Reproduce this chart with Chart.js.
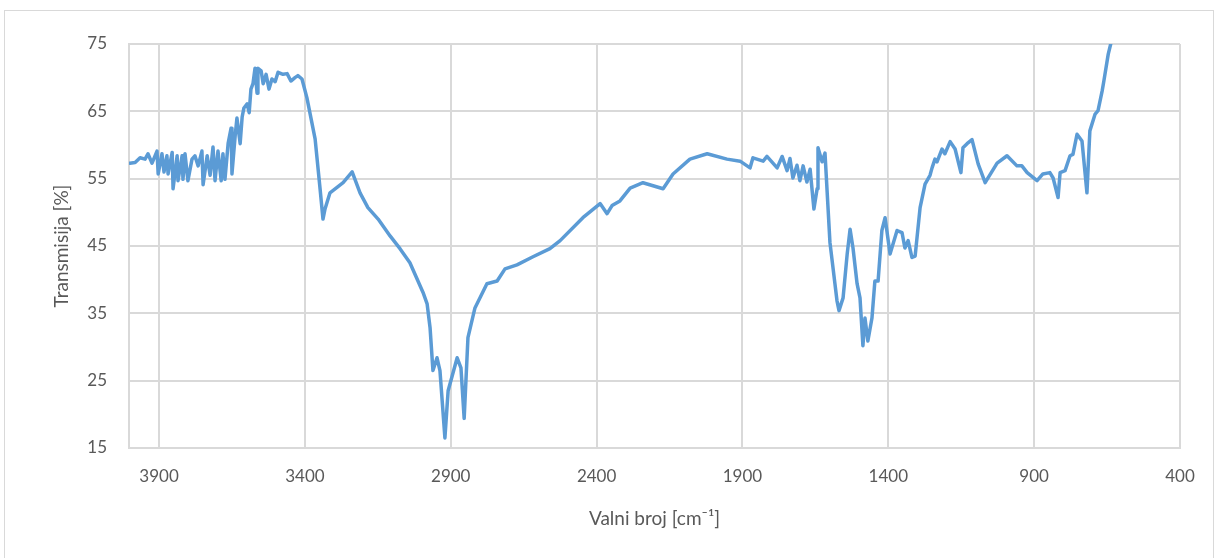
<!DOCTYPE html>
<html>
<head>
<meta charset="utf-8">
<script src="https://cdn.jsdelivr.net/npm/chart.js@4"></script>
<style>
  body { margin: 0; background: #fff; }
  #wrap { position: relative; width: 1215px; height: 558px; }
  #frame { position: absolute; left: 4px; top: 10px; width: 1208px; height: 560px; border: 1px solid #d9d9d9; }
  canvas { position: absolute; left: 0; top: 0; }
</style>
</head>
<body>
<div id="wrap">
  <div id="frame"></div>
  <canvas id="ftir" width="1215" height="558"></canvas>
</div>
<script>
// wavenumber [cm-1]
const wavenumbers = [
  4000, 3982, 3965, 3948, 3938, 3924, 3907, 3903, 3890, 3883, 3873, 3869, 3855, 3852, 3838, 3835,
  3821, 3818, 3811, 3801, 3787, 3777, 3766, 3753, 3749, 3735, 3725, 3715, 3708, 3698, 3687, 3681,
  3674, 3663, 3653, 3650, 3639, 3633, 3622, 3615, 3609, 3598, 3591, 3585, 3578, 3571, 3564, 3561,
  3550, 3543, 3533, 3523, 3513, 3502, 3492, 3475, 3461, 3448, 3434, 3424, 3410, 3393, 3365, 3348,
  3338, 3331, 3314, 3269, 3238, 3211, 3184, 3149, 3108, 3074, 3040, 2995, 2981, 2971, 2961, 2947,
  2937, 2920, 2909, 2878, 2865, 2854, 2841, 2817, 2776, 2741, 2714, 2673, 2618, 2560, 2525, 2447,
  2388, 2364, 2347, 2320, 2285, 2241, 2172, 2138, 2080, 2021, 1953, 1908, 1874, 1864, 1829, 1816,
  1781, 1764, 1747, 1737, 1727, 1713, 1703, 1692, 1679, 1668, 1661, 1655, 1644, 1641, 1627, 1617,
  1600, 1576, 1569, 1555, 1541, 1531, 1521, 1507, 1497, 1487, 1480, 1470, 1456, 1446, 1435, 1422,
  1411, 1394, 1370, 1353, 1343, 1332, 1319, 1308, 1291, 1274, 1257, 1250, 1240, 1233, 1216, 1206,
  1188, 1171, 1151, 1144, 1130, 1113, 1092, 1068, 1027, 993, 959, 942, 924, 890, 870, 846,
  835, 818, 811, 794, 777, 767, 753, 736, 719, 709, 691, 681, 667, 661, 646, 637, 620
];
// transmission [%]
const transmission = [
  57.3, 57.4, 58.1, 57.9, 58.7, 57.3, 59.1, 55.7, 58.7, 56.0, 58.4, 55.7, 58.9, 53.5, 58.4, 54.7,
  58.4, 54.9, 58.7, 54.7, 57.9, 58.4, 56.9, 59.1, 54.1, 58.4, 55.5, 59.7, 54.7, 59.1, 54.7, 58.7,
  54.9, 60.3, 62.5, 55.7, 61.4, 64.0, 60.2, 64.2, 65.5, 66.1, 64.8, 68.3, 69.1, 71.4, 67.7, 71.4,
  71.0, 69.1, 70.5, 68.3, 69.8, 69.4, 70.8, 70.5, 70.6, 69.5, 70.0, 70.3, 69.8, 67.0, 60.9, 53.5,
  49.0, 50.5, 52.9, 54.4, 56.0, 52.9, 50.7, 49.0, 46.5, 44.6, 42.5, 38.1, 36.4, 32.9, 26.5, 28.4,
  26.5, 16.5, 23.5, 28.4, 26.9, 19.4, 31.4, 35.8, 39.4, 39.8, 41.6, 42.2, 43.4, 44.6, 45.8, 49.2,
  51.3, 49.8, 51.0, 51.7, 53.6, 54.4, 53.5, 55.7, 57.9, 58.7, 57.9, 57.6, 56.6, 58.1, 57.6, 58.3,
  56.6, 58.3, 56.2, 58.0, 55.1, 57.0, 54.7, 56.9, 54.5, 56.4, 53.2, 50.5, 53.5, 59.6, 57.5, 58.8,
  45.5, 36.9, 35.4, 37.3, 43.8, 47.5, 44.7, 39.4, 37.3, 30.2, 34.3, 30.9, 34.3, 39.8, 39.8, 47.3,
  49.2, 43.8, 47.3, 47.0, 44.7, 45.8, 43.3, 43.5, 50.7, 54.2, 55.5, 56.6, 57.9, 57.5, 59.4, 58.7,
  60.5, 59.4, 55.9, 59.6, 60.2, 60.8, 57.2, 54.4, 57.3, 58.4, 56.9, 56.9, 55.9, 54.7, 55.7, 55.9,
  55.1, 52.2, 55.9, 56.2, 58.4, 58.6, 61.6, 60.6, 52.9, 62.1, 64.6, 65.1, 68.0, 69.5, 73.5, 75.1, 77.5
];
const xTickValues = [3900, 3400, 2900, 2400, 1900, 1400, 900, 400];

const points = wavenumbers.map((w, i) => ({ x: w, y: transmission[i] }));

const gridColor = '#d9d9d9';
const textColor = '#595959';
const fontFamily = 'Lato, "Open Sans", sans-serif';

const config = {
  type: 'scatter',
  data: {
    datasets: [{
      data: points,
      showLine: true,
      borderColor: '#5b9bd5',
      borderWidth: 3.5,
      borderJoinStyle: 'round',
      borderCapStyle: 'round',
      pointRadius: 0,
      tension: 0
    }]
  },
  options: {
    responsive: false,
    animation: false,
    layout: { padding: { left: 46, top: 44, right: 35, bottom: 24 } },
    plugins: {
      legend: { display: false },
      tooltip: { enabled: false }
    },
    scales: {
      x: {
        type: 'linear',
        reverse: true,
        min: 400,
        max: 4003,
        afterBuildTicks: (scale) => {
          scale.ticks = xTickValues.map(v => ({ value: v }));
        },
        afterFit: (scale) => { scale.height = 86; },
        grid: { color: gridColor, lineWidth: 2, drawTicks: false },
        border: { color: gridColor, width: 2 },
        ticks: {
          color: textColor, font: { family: fontFamily, size: 17 }, padding: 18, maxRotation: 0,
          callback: (v) => String(v)
        },
        title: { display: true, text: 'Valni broj [cm⁻¹]', color: textColor, font: { family: fontFamily, size: 19 }, padding: { top: 4, bottom: 4 } }
      },
      y: {
        min: 15,
        max: 75,
        afterFit: (scale) => { scale.width = 83; },
        ticks: { stepSize: 10, color: textColor, font: { family: fontFamily, size: 17 }, padding: 22 },
        grid: { color: gridColor, lineWidth: 2, drawTicks: false },
        border: { color: gridColor, width: 2 },
        title: { display: true, text: 'Transmisija [%]', color: textColor, font: { family: fontFamily, size: 19 }, padding: { top: 4, bottom: 4 } }
      }
    }
  }
};

new Chart(document.getElementById('ftir').getContext('2d'), config);
</script>
</body>
</html>
